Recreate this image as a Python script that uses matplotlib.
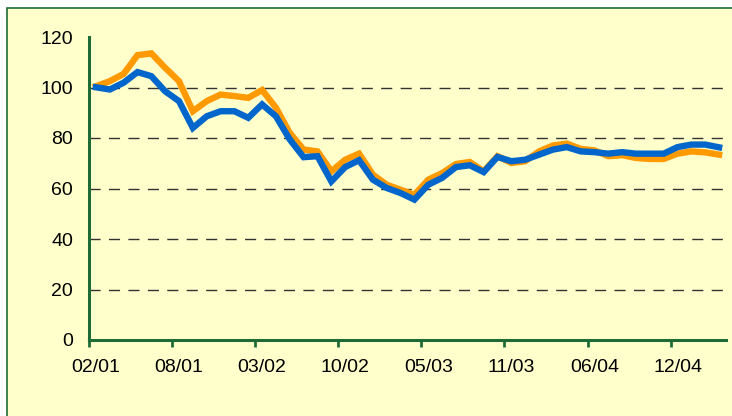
import matplotlib.pyplot as plt
from matplotlib.patches import Rectangle
import numpy as np

# values (index starts at 100)
orange = [100.5, 102.5, 105.4, 112.8, 113.5, 107.8, 102.5, 90.6, 94.6, 97.2,
          96.6, 95.9, 99.0, 92.0, 82.0, 75.4, 74.7, 66.8, 71.4, 73.8,
          65.5, 61.5, 59.5, 57.5, 63.5, 66.1, 69.7, 70.5, 66.8, 72.8,
          70.1, 70.8, 74.7, 77.0, 77.8, 75.7, 75.1, 72.8, 73.2, 72.1,
          71.7, 71.7, 73.8, 74.7, 74.3, 73.4]
blue = [100.1, 99.2, 101.9, 106.1, 104.5, 98.5, 94.6, 84.0, 88.6, 90.6,
        90.6, 88.0, 93.3, 88.6, 79.4, 72.4, 72.8, 62.8, 68.5, 71.2,
        63.5, 60.2, 58.2, 55.6, 61.5, 64.2, 68.5, 69.2, 66.5, 72.5,
        70.8, 71.4, 73.4, 75.4, 76.4, 74.7, 74.4, 73.8, 74.4, 73.8,
        73.8, 73.8, 76.4, 77.4, 77.4, 76.3]
tick_labels = ['02/01', '08/01', '03/02', '10/02', '05/03', '11/03', '06/04', '12/04']
label_every = 6

W, H = 732, 416
bg = '#FFFFCC'
green = '#1F6B35'

plt.rcParams['font.family'] = ['Liberation Sans', 'DejaVu Sans']

fig = plt.figure(figsize=(W / 100, H / 100), dpi=100, facecolor='white')
# framed pale yellow panel, running off the right and bottom edges
fig.patches.append(Rectangle((7 / W, -0.02), 1.0, 1.02 - 8 / H, transform=fig.transFigure,
                             facecolor=bg, edgecolor=green, linewidth=1.2, zorder=-1))

ax = fig.add_axes([89 / W, (H - 340) / H, (726 - 89) / W, (340 - 37) / H])
ax.set_facecolor('none')

x = np.arange(len(orange))
ax.plot(x, orange, color='#FF9900', linewidth=4.6, solid_joinstyle='miter', zorder=3)
ax.plot(x, blue, color='#0066CC', linewidth=4.6, solid_joinstyle='miter', zorder=4)

ax.set_xlim(-0.5, len(orange) - 0.5)
ax.set_ylim(0, 120)

for v in range(20, 120, 20):
    ax.axhline(v, color='#333333', linewidth=1, linestyle=(0, (8, 6)), zorder=1)

ax.set_yticks(range(0, 121, 20))
ax.tick_params(axis='y', length=0, pad=11.5, labelsize=14, labelcolor='black')

ax.set_xticks(np.arange(0, len(tick_labels) * label_every, label_every))
ax.set_xticklabels(tick_labels)
ax.set_xticks(np.arange(-0.5, len(orange), label_every), minor=True)
ax.tick_params(axis='x', which='major', length=0, pad=14, labelsize=14)
ax.tick_params(axis='x', which='minor', length=5, width=2, color=green, direction='out')

for s in ['top', 'right']:
    ax.spines[s].set_visible(False)
for s in ['left', 'bottom']:
    ax.spines[s].set_color(green)
    ax.spines[s].set_linewidth(2.2)

fig.savefig('out.png', dpi=100, facecolor='white')
